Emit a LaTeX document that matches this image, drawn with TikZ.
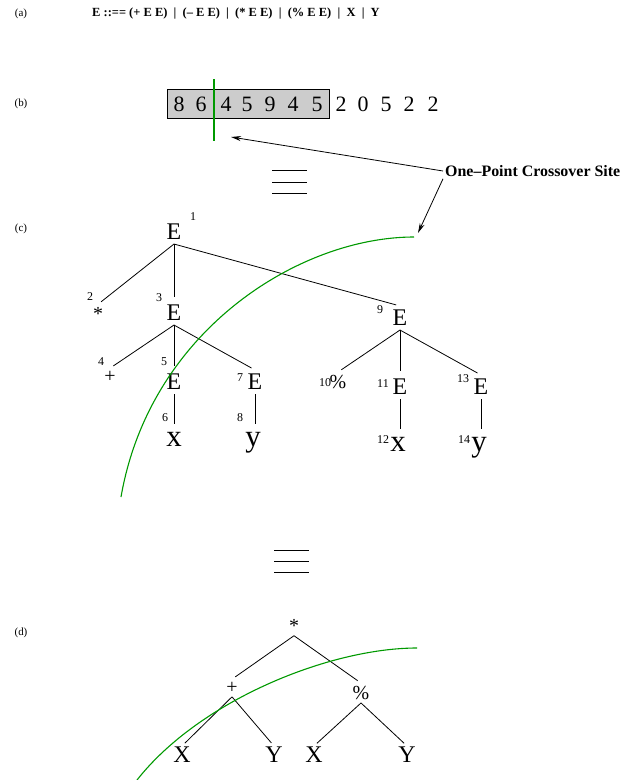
\documentclass[tikz,border=0pt]{standalone}
\usepackage{fontspec}
\setmainfont{Liberation Serif}
\usetikzlibrary{positioning,arrows.meta}
\definecolor{CutGreen}{HTML}{009900}
\definecolor{GeneGray}{HTML}{CCCCCC}
\tikzset{
  partlabel/.style={font=\fontsize{11}{13}\selectfont, inner sep=0pt},
  rulenode/.style={font=\fontsize{12.5}{15}\selectfont\bfseries, anchor=west, inner sep=0pt},
  sitenode/.style={font=\fontsize{16}{18}\selectfont\bfseries, anchor=west, inner sep=2bp},
  genebox/.style={draw, fill=GeneGray, line width=0.9bp, minimum width=162bp, minimum height=29bp, inner sep=0pt},
  gene/.style={font=\fontsize{22}{24}\selectfont, inner sep=0pt},
  tnode/.style={font=\fontsize{24}{28}\selectfont, inner xsep=0pt, inner ysep=4bp},
  leafnode/.style={font=\fontsize{31}{34}\selectfont, inner xsep=0pt, inner ysep=4bp, anchor=base},
  opnode/.style={font=\fontsize{20}{24}\selectfont, inner xsep=0pt, inner ysep=3bp},
  dleaf/.style={font=\fontsize{24}{28}\selectfont, inner xsep=0pt, inner ysep=1bp},
  numnode/.style={font=\fontsize{12}{14}\selectfont, inner sep=0pt},
  branch/.style={line width=0.8bp, shorten >=4bp},
  cutline/.style={draw=CutGreen, line width=1.1bp},
  pointer/.style={line width=0.8bp, -{Stealth[length=10bp,width=5bp]}},
  eqbar/.style={line width=0.9bp},
}

\begin{document}
\begin{tikzpicture}[x=1bp, y=-1bp]
  \useasboundingbox (0,0) rectangle (624,780);
  % (a) grammar
  \node[partlabel] (la) at (21,14) {(a)};
  \node[rulenode] (rule) at (92,14) {E ::== (+ E E)\enspace|\enspace(– E E)\enspace|\enspace(* E E)\enspace|\enspace(\% E E)\enspace|\enspace X\enspace|\enspace Y};

  % (b) linear genome
  \node[partlabel] (lb) at (21,104) {(b)};
  \node[genebox] (chrom) at (248,103.5) {};
  \foreach \d/\xx [count=\i] in {8/179,6/201,4/226,5/247,9/270,4/293,5/317,2/341,0/363,5/386,2/409,2/433}
    \node[gene] (g\i) at (\xx,104) {\d};
  \draw[cutline] (214,79) -- (214,141);
  \coordinate (cutb) at (231,137);
  \coordinate (cutc) at (418,233);
  \node[sitenode] (site) at (443,171) {One–Point Crossover Site};
  \draw[pointer] (site.west) -- (cutb);
  \draw[pointer] (site.south west) -- (cutc);
  \foreach \yy in {170,182,193} \draw[eqbar] (272,\yy) -- (307,\yy);

  % (c) derivation tree
  \node[partlabel] (lc) at (21,229) {(c)};
  \node[tnode] (e1) at (174,232) {E};
  \node[numnode] (n1) at (193,217) {1};
  \node[opnode] (e2) at (98,314) {*};
  \node[numnode] (n2) at (90,297) {2};
  \node[tnode] (e3) at (174,313) {E};
  \node[numnode] (n3) at (159,298) {3};
  \node[opnode] (e4) at (110,377) {+};
  \node[numnode] (n4) at (101,362) {4};
  \node[tnode] (e5) at (174,382) {E};
  \node[numnode] (n5) at (164,362) {5};
  \node[leafnode] (e6) at (174,446) {x};
  \node[numnode] (n6) at (165,418) {6};
  \node[tnode] (e7) at (255,382) {E};
  \node[numnode] (n7) at (240,378) {7};
  \node[leafnode] (e8) at (253,446) {y};
  \node[numnode] (n8) at (240,418) {8};
  \node[tnode] (e9) at (400,318) {E};
  \node[numnode] (n9) at (380,310) {9};
  \node[opnode] (e10) at (338,382) {\%};
  \node[numnode] (n10) at (325,383) {10};
  \node[tnode] (e11) at (400,387) {E};
  \node[numnode] (n11) at (383,384) {11};
  \node[leafnode] (e12) at (398,451) {x};
  \node[numnode] (n12) at (383,440) {12};
  \node[tnode] (e13) at (481,387) {E};
  \node[numnode] (n13) at (463,379) {13};
  \node[leafnode] (e14) at (479,451) {y};
  \node[numnode] (n14) at (464,440) {14};
  \draw[branch] (e1.south) -- (e2.north);
  \draw[branch] (e1.south) -- (e3.north);
  \draw[branch] (e1.south) -- (e9.north);
  \draw[branch] (e3.south) -- (e4.north);
  \draw[branch] (e3.south) -- (e5.north);
  \draw[branch] (e3.south) -- (e7.north);
  \draw[branch] (e5.south) -- (e5.south |- e6.north);
  \draw[branch] (e7.south) -- (e7.south |- e8.north);
  \draw[branch] (e9.south) -- (e10.north);
  \draw[branch] (e9.south) -- (e11.north);
  \draw[branch] (e9.south) -- (e13.north);
  \draw[branch] (e11.south) -- (e11.south |- e12.north);
  \draw[branch] (e13.south) -- (e13.south |- e14.north);
  \draw[cutline] (414,237) .. controls (300,237) and (150,330) .. (121,497);

  \foreach \yy in {550,561,572} \draw[eqbar] (274,\yy) -- (309,\yy);

  % (d) expression tree
  \node[partlabel] (ld) at (21,633) {(d)};
  \node[opnode] (dstar) at (294,626) {*};
  \node[opnode] (dplus) at (232,688) {+};
  \node[opnode] (dpct) at (361,693) {\%};
  \node[dleaf] (dx1) at (182,755) {X};
  \node[dleaf] (dy1) at (274,755) {Y};
  \node[dleaf] (dx2) at (314,755) {X};
  \node[dleaf] (dy2) at (407,755) {Y};
  \draw[branch] (dstar.south) -- (dplus.north);
  \draw[branch] (dstar.south) -- (dpct.north);
  \draw[branch] (dplus.south) -- (dx1.north);
  \draw[branch] (dplus.south) -- (dy1.north);
  \draw[branch] (dpct.south) -- (dx2.north);
  \draw[branch] (dpct.south) -- (dy2.north);
  \draw[cutline] (417,648) .. controls (330,648) and (200,700) .. (137,780);
\end{tikzpicture}
\end{document}
